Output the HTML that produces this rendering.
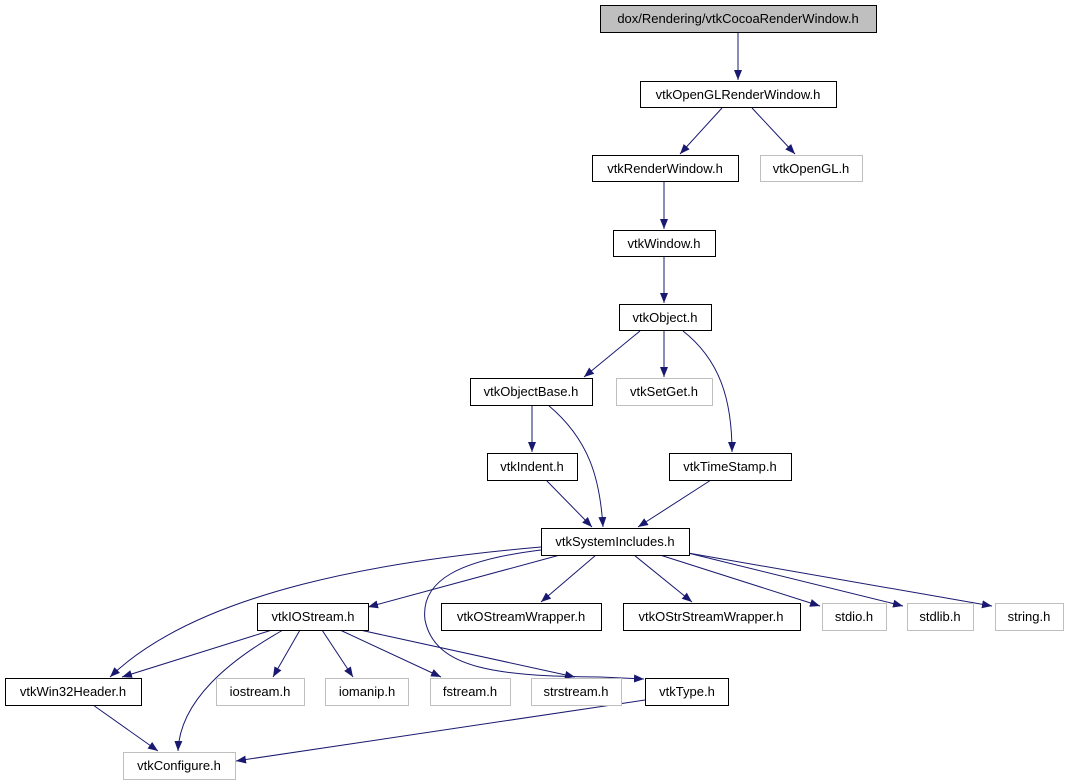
<!DOCTYPE html>
<html><head><meta charset="utf-8"><style>
html,body{margin:0;padding:0;background:#fff;width:1068px;height:784px;overflow:hidden}
text{font-family:"Liberation Sans",sans-serif;font-size:13px;fill:#000}
</style></head><body>
<svg width="1068" height="784" viewBox="0 0 1068 784" xmlns="http://www.w3.org/2000/svg">
<defs><marker id="a" markerWidth="10" markerHeight="8" refX="10" refY="4" orient="auto" markerUnits="userSpaceOnUse"><path d="M0,0 L10,4 L0,8 Z" fill="#191970"/></marker></defs>
<g fill="none" stroke="#191970" stroke-width="1" marker-end="url(#a)">
<path d="M738,32 L738,80"/>
<path d="M722,108 L680,154"/>
<path d="M752,108 L795,154"/>
<path d="M664,182 L664,229"/>
<path d="M664,256 L664,303"/>
<path d="M640,331 L584,377"/>
<path d="M664,331 L664,377"/>
<path d="M683,331 C720,360 732,400 732,452"/>
<path d="M532,405 L532,452"/>
<path d="M548,405 C590,440 600,480 603,527"/>
<path d="M546,480 L592,527"/>
<path d="M711,480 L638,527"/>
<path d="M541,547 C390,560 200,590 110,677"/>
<path d="M560,555 L368,607"/>
<path d="M596,555 L541,602"/>
<path d="M634,555 L692,602"/>
<path d="M660,555 L820,606"/>
<path d="M688,553 L903,606"/>
<path d="M688,553 L992,606"/>
<path d="M541,550 C460,560 420,580 425,620 C435,670 500,676 600,677 L644,679"/>
<path d="M272,630 L122,677"/>
<path d="M283,630 C230,660 180,700 178,751"/>
<path d="M300,630 L273,677"/>
<path d="M322,630 L353,677"/>
<path d="M340,630 L441,677"/>
<path d="M360,630 L575,677"/>
<path d="M93,705 L158,751"/>
<path d="M645,700 L236,761"/>
</g>
<g stroke-width="1">
<rect x="600.5" y="5.5" width="276" height="27" fill="#bfbfbf" stroke="#000"/>
<rect x="640.5" y="81.5" width="196" height="26" fill="#fff" stroke="#000"/>
<rect x="592.5" y="155.5" width="146" height="26" fill="#fff" stroke="#000"/>
<rect x="760.5" y="155.5" width="102" height="26" fill="#fff" stroke="#bfbfbf"/>
<rect x="613.5" y="230.5" width="102" height="26" fill="#fff" stroke="#000"/>
<rect x="619.5" y="304.5" width="92" height="26" fill="#fff" stroke="#000"/>
<rect x="470.5" y="378.5" width="122" height="27" fill="#fff" stroke="#000"/>
<rect x="616.5" y="378.5" width="96" height="27" fill="#fff" stroke="#bfbfbf"/>
<rect x="487.5" y="453.5" width="90" height="27" fill="#fff" stroke="#000"/>
<rect x="669.5" y="453.5" width="122" height="27" fill="#fff" stroke="#000"/>
<rect x="541.5" y="528.5" width="148" height="27" fill="#fff" stroke="#000"/>
<rect x="257.5" y="603.5" width="111" height="27" fill="#fff" stroke="#000"/>
<rect x="441.5" y="603.5" width="160" height="27" fill="#fff" stroke="#000"/>
<rect x="623.5" y="603.5" width="177" height="27" fill="#fff" stroke="#000"/>
<rect x="822.5" y="603.5" width="64" height="27" fill="#fff" stroke="#bfbfbf"/>
<rect x="907.5" y="603.5" width="66" height="27" fill="#fff" stroke="#bfbfbf"/>
<rect x="995.5" y="603.5" width="68" height="27" fill="#fff" stroke="#bfbfbf"/>
<rect x="5.5" y="678.5" width="136" height="27" fill="#fff" stroke="#000"/>
<rect x="216.5" y="678.5" width="88" height="27" fill="#fff" stroke="#bfbfbf"/>
<rect x="325.5" y="678.5" width="83" height="27" fill="#fff" stroke="#bfbfbf"/>
<rect x="430.5" y="678.5" width="80" height="27" fill="#fff" stroke="#bfbfbf"/>
<rect x="531.5" y="678.5" width="90" height="27" fill="#fff" stroke="#bfbfbf"/>
<rect x="645.5" y="678.5" width="83" height="27" fill="#fff" stroke="#000"/>
<rect x="123.5" y="752.5" width="112" height="27" fill="#fff" stroke="#bfbfbf"/>
</g>
<g text-anchor="middle">
<text x="738" y="23">dox/Rendering/vtkCocoaRenderWindow.h</text>
<text x="738" y="99">vtkOpenGLRenderWindow.h</text>
<text x="665" y="173">vtkRenderWindow.h</text>
<text x="811" y="173">vtkOpenGL.h</text>
<text x="664" y="248">vtkWindow.h</text>
<text x="665" y="322">vtkObject.h</text>
<text x="531" y="396">vtkObjectBase.h</text>
<text x="664" y="396">vtkSetGet.h</text>
<text x="532" y="471">vtkIndent.h</text>
<text x="730" y="471">vtkTimeStamp.h</text>
<text x="615" y="546">vtkSystemIncludes.h</text>
<text x="313" y="621">vtkIOStream.h</text>
<text x="521" y="621">vtkOStreamWrapper.h</text>
<text x="711" y="621">vtkOStrStreamWrapper.h</text>
<text x="854" y="621">stdio.h</text>
<text x="940" y="621">stdlib.h</text>
<text x="1029" y="621">string.h</text>
<text x="73" y="696">vtkWin32Header.h</text>
<text x="260" y="696">iostream.h</text>
<text x="367" y="696">iomanip.h</text>
<text x="470" y="696">fstream.h</text>
<text x="576" y="696">strstream.h</text>
<text x="687" y="696">vtkType.h</text>
<text x="179" y="770">vtkConfigure.h</text>
</g>
</svg>
</body></html>
